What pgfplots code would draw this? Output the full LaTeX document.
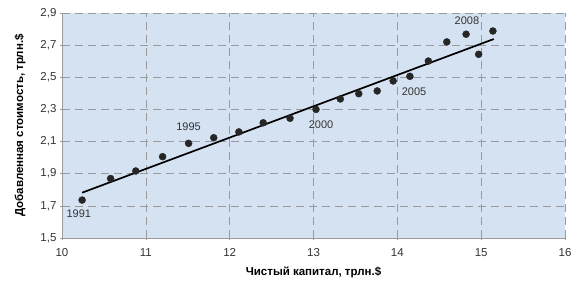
\documentclass[border=0pt]{standalone}
\usepackage{pgfplots}
\pgfplotsset{compat=1.18}
\usepackage{fontspec}
\setmainfont{Liberation Sans}
\definecolor{bgblue}{HTML}{D5E2F2}
\definecolor{gridgray}{HTML}{9A9A9A}
\definecolor{txtgray}{HTML}{333333}
\begin{document}
\begin{tikzpicture}
\begin{axis}[
  scale only axis,
  width=503pt, height=225pt,
  xmin=10, xmax=16, ymin=1.5, ymax=2.9,
  xtick={10,11,...,16},
  ytick={1.5,1.7,...,2.9},
  axis x line*=bottom, axis y line*=left,
  axis line style={gridgray, line width=0.8pt, -},
  axis background/.style={fill=bgblue},
  grid=major,
  major grid style={gridgray, dash pattern=on 8pt off 5pt, line width=0.6pt},
  tick style={gridgray, line width=0.6pt},
  major tick length=4pt,
  tick align=center,
  /pgf/number format/assume math mode=true,
  /pgf/number format/.cd, use comma, fixed, fixed zerofill, precision=1,
  /pgfplots/.cd,
  xticklabel={\pgfmathprintnumber[fixed, precision=0]{\tick}},
  ticklabel style={font=\fontsize{11.5}{13}\selectfont, text=txtgray},
  xticklabel style={yshift=-5pt},
  xlabel={\textbf{Чистый капитал, трлн.\$}},
  ylabel={\textbf{Добавленная стоимость, трлн.\$}},
  label style={font=\fontsize{11.5}{13}\selectfont, text=black},
  xlabel style={at={(axis description cs:0.5,-0.151)}, anchor=center},
  ylabel style={at={(axis description cs:-0.0835,0.5)}, anchor=center},
  clip=false,
]
\addplot[only marks, mark=*, mark size=3.5pt, color=black!85] coordinates {
(10.24,1.736) (10.58,1.870) (10.88,1.917) (11.20,2.006) (11.51,2.089)
(11.81,2.124) (12.11,2.160) (12.40,2.217) (12.72,2.245) (13.03,2.300)
(13.32,2.365) (13.54,2.398) (13.76,2.415) (13.95,2.477) (14.15,2.506)
(14.37,2.601) (14.59,2.720) (14.82,2.768) (14.97,2.643) (15.14,2.788)
};
\addplot[black, line width=1.7pt] coordinates {(10.24,1.782) (15.15,2.738)};
\begin{scope}[every node/.style={font=\fontsize{11}{13}\selectfont, text=txtgray}]
\node at (axis cs:10.2,1.65) {1991};
\node at (axis cs:11.51,2.19) {1995};
\node at (axis cs:13.09,2.203) {2000};
\node at (axis cs:14.20,2.41) {2005};
\node at (axis cs:14.83,2.85) {2008};
\end{scope}
\path (rel axis cs:0,0) ++(-62pt,-48pt) coordinate (bbsw);
\path (rel axis cs:1,1) ++(20pt,13pt) coordinate (bbne);
\end{axis}
\useasboundingbox (bbsw) rectangle (bbne);
\end{tikzpicture}
\end{document}
